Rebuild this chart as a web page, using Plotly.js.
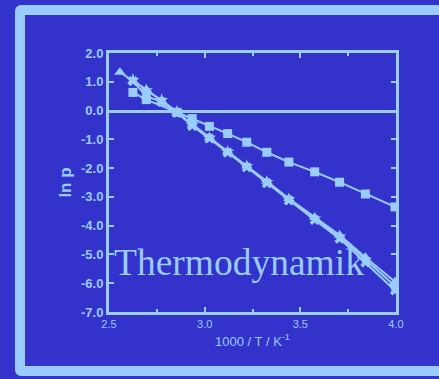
<!DOCTYPE html>
<html>
<head>
<meta charset="utf-8">
<script src="https://cdn.plot.ly/plotly-3.0.1.min.js"></script>
<style>
html,body{margin:0;padding:0;background:#3333cc;width:439px;height:379px;overflow:hidden;}
#frame{position:absolute;left:15px;top:5px;width:460px;height:351px;border:10px solid #99ccff;border-radius:6px;}
#chart{position:absolute;left:0;top:0;width:439px;height:379px;}
</style>
</head>
<body>
<div id="frame"></div>
<div id="chart"></div>
<script>
// data
const xSquares = [2.625, 2.695, 2.855, 2.935, 3.025, 3.12, 3.22, 3.325, 3.44, 3.575, 3.705, 3.84, 3.995];
const ySquares = [0.63, 0.38, -0.06, -0.28, -0.55, -0.80, -1.10, -1.45, -1.79, -2.13, -2.49, -2.90, -3.35];

const xTriangles = [2.557, 2.625, 2.695, 2.775, 2.855, 2.935, 3.025, 3.12, 3.22, 3.325, 3.44, 3.575, 3.705, 3.84, 3.995];
const yTriangles = [1.33, 1.04, 0.73, 0.34, -0.06, -0.49, -0.93, -1.42, -1.92, -2.46, -3.06, -3.72, -4.33, -5.10, -5.95];

const xStars = [2.625, 2.695, 2.775, 2.855, 2.935, 3.025, 3.12, 3.22, 3.325, 3.44, 3.575, 3.705, 3.84, 3.995];
const yStars = [1.06, 0.70, 0.36, -0.04, -0.51, -0.95, -1.44, -1.94, -2.49, -3.09, -3.76, -4.38, -5.18, -6.10];

const xCrosses = [2.625, 2.695, 2.775, 2.855, 2.935, 3.025, 3.12, 3.22, 3.325, 3.44, 3.575, 3.705, 3.84, 3.995];
const yCrosses = [1.02, 0.50, 0.30, -0.08, -0.53, -0.97, -1.46, -1.97, -2.52, -3.12, -3.80, -4.45, -5.28, -6.25];

const xTickVals = [2.5, 3.0, 3.5, 4.0];
const xTickText = ['2.5', '3.0', '3.5', '4.0'];
const yTickVals = [2, 1, 0, -1, -2, -3, -4, -5, -6, -7];
const yTickText = ['2.0', '1.0', '0.0', '-1.0', '-2.0', '-3.0', '-4.0', '-5.0', '-6.0', '-7.0'];

const LB = '#99ccff';

const traces = [
  {x: xSquares, y: ySquares, mode: 'lines+markers', line: {color: LB, width: 2},
   marker: {symbol: 'square', size: 9, color: LB}},
  {x: xTriangles, y: yTriangles, mode: 'lines+markers', line: {color: LB, width: 2},
   marker: {symbol: 'triangle-up', size: 10, color: LB}},
  {x: xStars, y: yStars, mode: 'lines+markers', line: {color: LB, width: 2},
   marker: {symbol: 'star', size: 10, color: LB}},
  {x: xCrosses, y: yCrosses, mode: 'lines+markers', line: {color: LB, width: 2},
   marker: {symbol: 'x', size: 9, color: LB}}
];

const layout = {
  width: 439, height: 379,
  margin: {l: 109, r: 43, t: 53, b: 67},
  paper_bgcolor: 'rgba(0,0,0,0)',
  plot_bgcolor: 'rgba(0,0,0,0)',
  showlegend: false,
  font: {family: 'Liberation Sans, Arial, sans-serif', color: LB},
  xaxis: {
    range: [2.5, 4.0], tickvals: xTickVals, ticktext: xTickText,
    ticks: 'inside', ticklen: 5, tickwidth: 2, tickcolor: LB,
    showline: true, linecolor: LB, linewidth: 3, mirror: 'ticks',
    showgrid: false, zeroline: false,
    minor: {tickvals: [2.75, 3.25, 3.75], ticks: 'inside', ticklen: 3, tickwidth: 2, tickcolor: LB},
    tickfont: {size: 11, color: LB},
    title: {text: '1000 / T / K<sup>-1</sup>', font: {size: 13, color: LB}, standoff: 8}
  },
  yaxis: {
    range: [-7, 2], tickvals: yTickVals, ticktext: yTickText,
    ticks: 'inside', ticklen: 5, tickwidth: 2, tickcolor: LB,
    showline: true, linecolor: LB, linewidth: 3, mirror: 'ticks',
    showgrid: false, zeroline: false,
    tickfont: {size: 13, color: LB, weight: 'bold'},
    title: {text: '<b>ln p</b>', font: {size: 17, color: LB}, standoff: 6}
  },
  shapes: [
    {type: 'line', xref: 'paper', yref: 'y', x0: 0, x1: 1, y0: -0.03, y1: -0.03,
     line: {color: LB, width: 3}}
  ],
  annotations: [
    {text: 'Thermodynamik', xref: 'paper', yref: 'paper', x: 0.01, y: 0.19,
     xanchor: 'left', yanchor: 'middle', showarrow: false,
     font: {family: 'Liberation Serif, Times New Roman, serif', size: 37.5, color: LB}}
  ]
};

Plotly.newPlot('chart', traces, layout, {displayModeBar: false, staticPlot: true});
</script>
</body>
</html>
